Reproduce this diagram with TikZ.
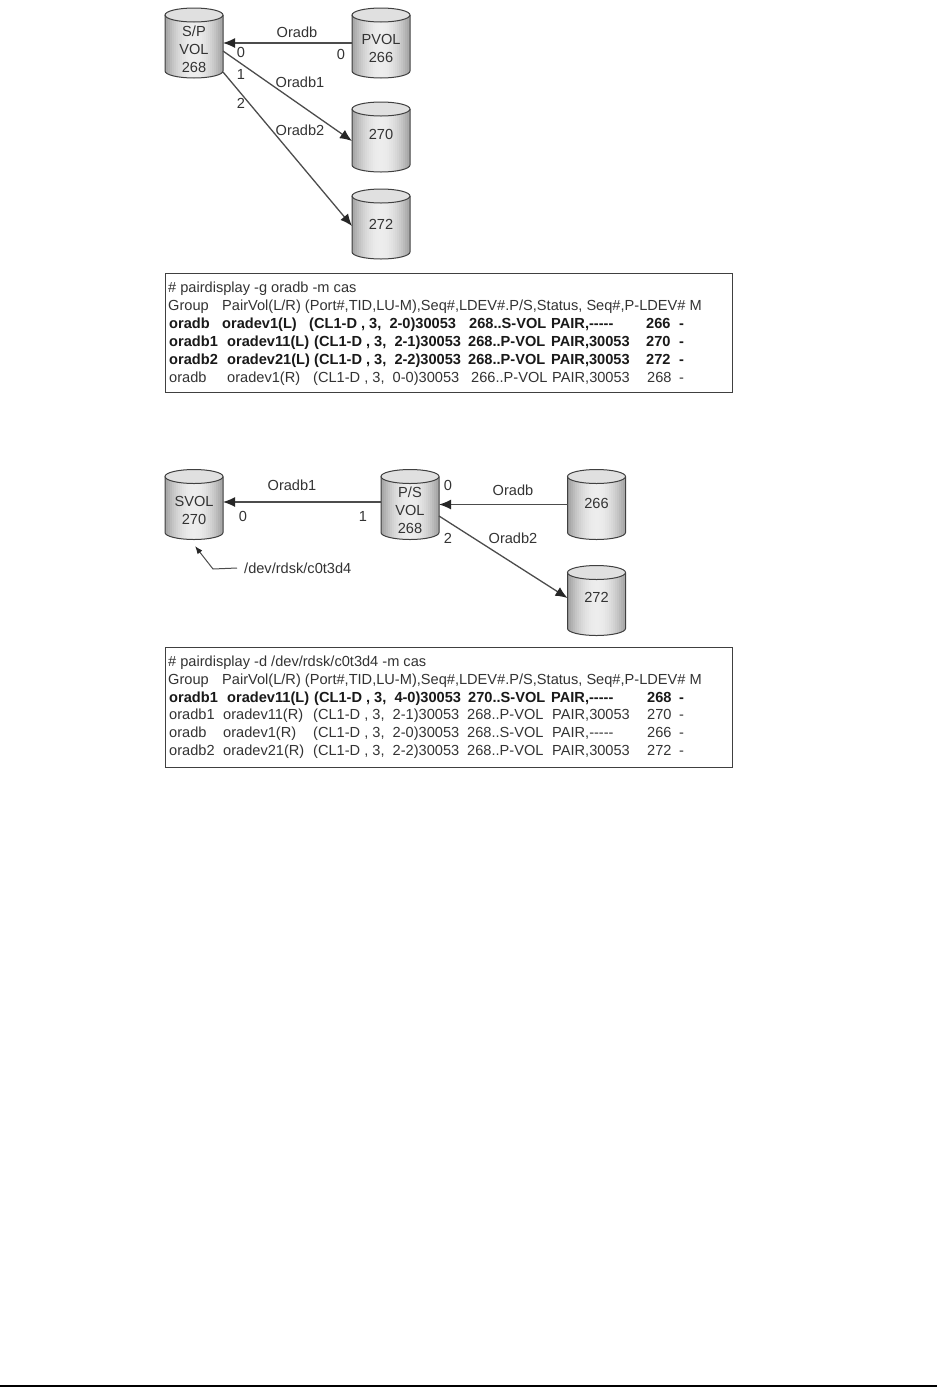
\documentclass[tikz,border=0pt]{standalone}
\usepackage{fontspec}
\setmainfont{Liberation Sans}
\usetikzlibrary{arrows.meta}

\tikzset{
  volbox/.style={minimum width=58pt, minimum height=70pt, inner sep=0pt, outer sep=0pt},
  voltext/.style={align=center, inner sep=0pt, text=black!80, font=\fontsize{14.6}{18}\selectfont},
  volline/.style={draw=black!75, line width=1pt},
  lbl/.style={text=black!80, inner sep=0pt, font=\fontsize{14.6}{15}\selectfont},
  link/.style={->, draw=black!70, line width=1.3pt},
  tablebox/.style={draw=black!75, line width=1pt, fill=white},
  cell/.style={anchor=base west, inner sep=0pt, text=black!80, font=\fontsize{14.6}{15}\selectfont},
  boldcell/.style={cell, text=black!90, font=\fontsize{14.6}{15}\selectfont\bfseries}
}

% one cylinder: name, placement, shift of its text, text
\newcommand{\volume}[4]{%
  \node [volbox, #2] (#1) {};
  \begin{scope}[shift={(#1.center)}]
    \begin{scope}
      \clip (-29pt,28pt) -- (-29pt,-28pt) arc[start angle=180, end angle=360, x radius=29pt, y radius=7pt]
        -- (29pt,28pt) arc[start angle=0, end angle=180, x radius=29pt, y radius=7pt] -- cycle;
      \foreach \s in {-30,-28,...,28} {
        \pgfmathsetmacro{\g}{7+31*((\s+1)/29)^2}
        \fill [black!\g] (\s pt,-40pt) rectangle ([xshift=2.4pt]\s pt,40pt);
      }
    \end{scope}
    \fill [black!12] (0pt,28pt) ellipse (29pt and 7pt);
    \draw [volline] (0pt,28pt) ellipse (29pt and 7pt);
    \draw [volline] (-29pt,28pt) -- (-29pt,-28pt) arc[start angle=180, end angle=360, x radius=29pt, y radius=7pt] -- (29pt,28pt);
  \end{scope}
  \node [voltext] (#1t) at ([yshift=#3]#1.center) {#4};
}

% one printed row of a table: name, baseline, style, x/text list
\newcommand{\tabline}[4]{%
  \foreach \cx/\ctext [count=\ci] in {#4}
    \node [#3] (#1-\ci) at (\cx,#2) {\ctext};
}
\newcommand{\nostat}{-{}-{}-{}-{}-}

\begin{document}
\begin{tikzpicture}[>={Latex[length=12pt,width=10pt,black!85]}, x=1pt, y=-1pt]
  \useasboundingbox (0,0) rectangle (937,1387);

  % upper volumes
  \volume{SP}{at={(194,43)}}{-6pt}{S/P\\VOL\\268}
  \volume{PV}{right of=SP, node distance=187pt}{-5pt}{PVOL\\266}
  \volume{VA}{below of=PV, node distance=94pt}{3pt}{270}
  \volume{VB}{below of=VA, node distance=87pt}{0pt}{272}

  \draw [link] (PV.west) -- (SP.east);
  \draw [link] ([yshift=-8pt]SP.east) -- ([yshift=-4pt]VA.west);
  \draw [link] ([yshift=-29pt]SP.east) -- ([yshift=-2pt]VB.west);

  \node [lbl] (la0) at (297,32) {Oradb};
  \node [lbl] (la1) at (241,52) {0};
  \node [lbl] (la2) at (341,54) {0};
  \node [lbl] (la3) at (241,74) {1};
  \node [lbl] (la4) at (300,82) {Oradb1};
  \node [lbl] (la5) at (241,103) {2};
  \node [lbl] (la6) at (300,130) {Oradb2};

  % upper table
  \node [tablebox, minimum width=567pt, minimum height=119pt] (T1) at (448.5,332.5) {};
  \tabline{ta}{292}{cell}{168/{\# pairdisplay -g oradb -m cas}}
  \tabline{tb}{310}{cell}{168/Group, 222/{PairVol(L/R) (Port\#,TID,LU-M),Seq\#,LDEV\#.P/S,Status, Seq\#,P-LDEV\# M}}
  \tabline{tc}{328}{boldcell}{169/oradb, 222/oradev1(L), 309/{(CL1-D , 3,\ \ 2-0)30053}, 469/{268..S-VOL}, 551/{PAIR,\nostat}, 646/266, 679/-}
  \tabline{td}{346}{boldcell}{169/oradb1, 227/oradev11(L), 314/{(CL1-D , 3,\ \ 2-1)30053}, 468/{268..P-VOL}, 551/{PAIR,30053}, 646/270, 679/-}
  \tabline{te}{364}{boldcell}{169/oradb2, 227/oradev21(L), 314/{(CL1-D , 3,\ \ 2-2)30053}, 468/{268..P-VOL}, 551/{PAIR,30053}, 646/272, 679/-}
  \tabline{tf}{382}{cell}{169/oradb, 227/oradev1(R), 313/{(CL1-D , 3,\ \ 0-0)30053}, 471/{266..P-VOL}, 552/{PAIR,30053}, 647/268, 679/-}

  % lower volumes
  \volume{SV}{at={(194,504.5)}}{-6pt}{SVOL\\270}
  \volume{PS}{right of=SV, node distance=216pt}{-6pt}{P/S\\VOL\\268}
  \volume{WA}{right of=PS, node distance=186.5pt}{1pt}{266}
  \volume{WB}{below of=WA, node distance=96pt}{3.5pt}{272}

  \draw [link] ([yshift=2.5pt]PS.west) -- ([yshift=2.5pt]SV.east);
  \draw [link] (WA.west) -- (PS.east);
  \draw [link] ([yshift=-11.5pt]PS.east) -- ([yshift=2.5pt]WB.west);

  \node [lbl] (lb0) at (292,485) {Oradb1};
  \node [lbl] (lb1) at (243,516) {0};
  \node [lbl] (lb2) at (363,516) {1};
  \node [lbl] (lb3) at (448,485) {0};
  \node [lbl] (lb4) at (513,490) {Oradb};
  \node [lbl] (lb5) at (448,538) {2};
  \node [lbl] (lb6) at (513,538) {Oradb2};

  \node [lbl, anchor=west] (DEV) at (244,568) {/dev/rdsk/c0t3d4};
  \coordinate (bend) at (213,569);
  \coordinate (tip) at (195,546);
  \draw [draw=black!70, line width=1pt, -{Latex[length=8pt,width=6pt,black!85]}] ([xshift=-7pt]DEV.west) -- (bend) -- (tip);

  % lower table
  \node [tablebox, minimum width=567pt, minimum height=120pt] (T2) at (448.5,707) {};
  \tabline{ua}{666}{cell}{168/{\# pairdisplay -d /dev/rdsk/c0t3d4 -m cas}}
  \tabline{ub}{684}{cell}{168/Group, 222/{PairVol(L/R) (Port\#,TID,LU-M),Seq\#,LDEV\#.P/S,Status, Seq\#,P-LDEV\# M}}
  \tabline{uc}{702}{boldcell}{169/oradb1, 227/oradev11(L), 314/{(CL1-D , 3,\ \ 4-0)30053}, 468/{270..S-VOL}, 551/{PAIR,\nostat}, 647/268, 679/-}
  \tabline{ud}{719}{cell}{169/oradb1, 223/oradev11(R), 313/{(CL1-D , 3,\ \ 2-1)30053}, 467/{268..P-VOL}, 552/{PAIR,30053}, 647/270, 679/-}
  \tabline{ue}{737}{cell}{169/oradb, 223/oradev1(R), 313/{(CL1-D , 3,\ \ 2-0)30053}, 467/{268..S-VOL}, 552/{PAIR,\nostat}, 647/266, 679/-}
  \tabline{uf}{755}{cell}{169/oradb2, 223/oradev21(R), 313/{(CL1-D , 3,\ \ 2-2)30053}, 467/{268..P-VOL}, 552/{PAIR,30053}, 647/272, 679/-}

  % page rule
  \coordinate (ruleL) at (0,1386);
  \coordinate (ruleR) at (937,1386);
  \draw [line width=2pt] (ruleL) -- (ruleR);
\end{tikzpicture}
\end{document}
